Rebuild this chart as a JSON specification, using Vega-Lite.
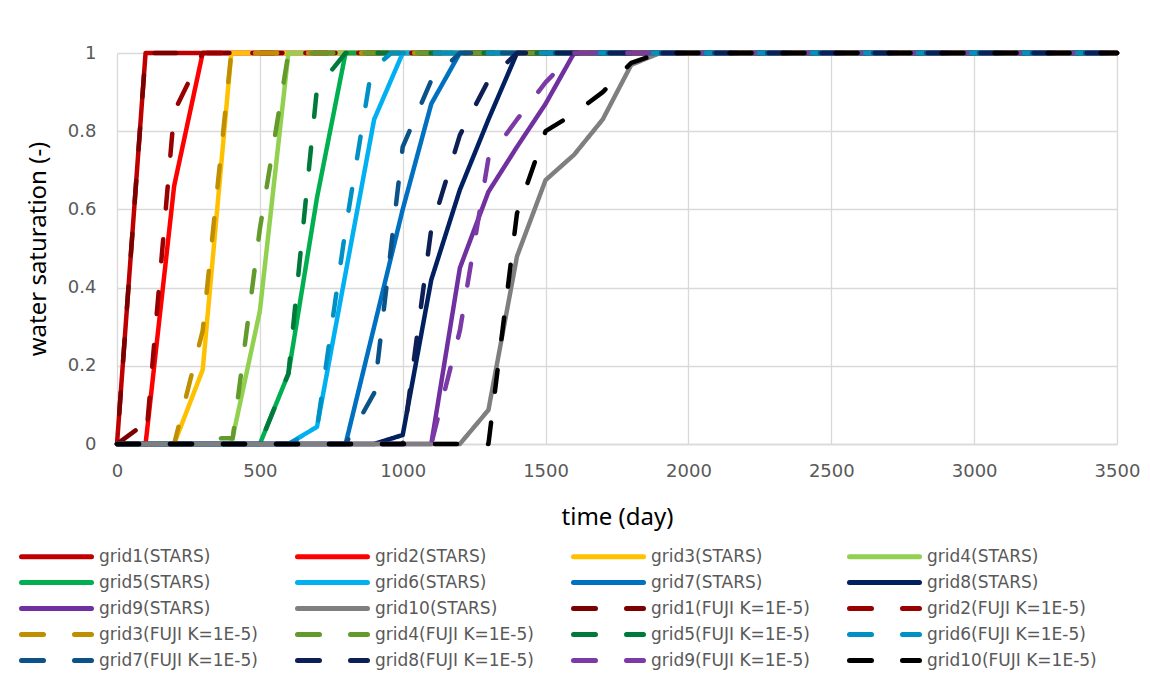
{
  "$schema": "https://vega.github.io/schema/vega-lite/v6.json",
  "autosize": {"type": "none"},
  "width": 1000,
  "height": 391,
  "padding": {"left": 117, "top": 53, "right": 33, "bottom": 229},
  "background": "#ffffff",
  "config": {
    "view": {"stroke": null},
    "font": "DejaVu Sans"
  },
  "datasets": {
    "stars": [
      {"series": "grid1(STARS)", "t": 0, "s": 0}, {"series": "grid1(STARS)", "t": 100, "s": 1}, {"series": "grid1(STARS)", "t": 3500, "s": 1},
      {"series": "grid2(STARS)", "t": 0, "s": 0}, {"series": "grid2(STARS)", "t": 100, "s": 0}, {"series": "grid2(STARS)", "t": 200, "s": 0.66}, {"series": "grid2(STARS)", "t": 300, "s": 1}, {"series": "grid2(STARS)", "t": 3500, "s": 1},
      {"series": "grid3(STARS)", "t": 0, "s": 0}, {"series": "grid3(STARS)", "t": 200, "s": 0}, {"series": "grid3(STARS)", "t": 300, "s": 0.19}, {"series": "grid3(STARS)", "t": 400, "s": 1}, {"series": "grid3(STARS)", "t": 3500, "s": 1},
      {"series": "grid4(STARS)", "t": 0, "s": 0}, {"series": "grid4(STARS)", "t": 400, "s": 0}, {"series": "grid4(STARS)", "t": 500, "s": 0.34}, {"series": "grid4(STARS)", "t": 600, "s": 1}, {"series": "grid4(STARS)", "t": 3500, "s": 1},
      {"series": "grid5(STARS)", "t": 0, "s": 0}, {"series": "grid5(STARS)", "t": 500, "s": 0}, {"series": "grid5(STARS)", "t": 600, "s": 0.18}, {"series": "grid5(STARS)", "t": 700, "s": 0.63}, {"series": "grid5(STARS)", "t": 800, "s": 1}, {"series": "grid5(STARS)", "t": 3500, "s": 1},
      {"series": "grid6(STARS)", "t": 0, "s": 0}, {"series": "grid6(STARS)", "t": 600, "s": 0}, {"series": "grid6(STARS)", "t": 700, "s": 0.044}, {"series": "grid6(STARS)", "t": 900, "s": 0.83}, {"series": "grid6(STARS)", "t": 1000, "s": 1}, {"series": "grid6(STARS)", "t": 3500, "s": 1},
      {"series": "grid7(STARS)", "t": 0, "s": 0}, {"series": "grid7(STARS)", "t": 800, "s": 0}, {"series": "grid7(STARS)", "t": 1000, "s": 0.6}, {"series": "grid7(STARS)", "t": 1100, "s": 0.87}, {"series": "grid7(STARS)", "t": 1200, "s": 1}, {"series": "grid7(STARS)", "t": 3500, "s": 1},
      {"series": "grid8(STARS)", "t": 0, "s": 0}, {"series": "grid8(STARS)", "t": 900, "s": 0}, {"series": "grid8(STARS)", "t": 1000, "s": 0.023}, {"series": "grid8(STARS)", "t": 1100, "s": 0.42}, {"series": "grid8(STARS)", "t": 1200, "s": 0.65}, {"series": "grid8(STARS)", "t": 1300, "s": 0.83}, {"series": "grid8(STARS)", "t": 1400, "s": 1}, {"series": "grid8(STARS)", "t": 3500, "s": 1},
      {"series": "grid9(STARS)", "t": 0, "s": 0}, {"series": "grid9(STARS)", "t": 1100, "s": 0}, {"series": "grid9(STARS)", "t": 1200, "s": 0.45}, {"series": "grid9(STARS)", "t": 1300, "s": 0.645}, {"series": "grid9(STARS)", "t": 1400, "s": 0.76}, {"series": "grid9(STARS)", "t": 1500, "s": 0.87}, {"series": "grid9(STARS)", "t": 1600, "s": 1}, {"series": "grid9(STARS)", "t": 3500, "s": 1},
      {"series": "grid10(STARS)", "t": 0, "s": 0}, {"series": "grid10(STARS)", "t": 1200, "s": 0}, {"series": "grid10(STARS)", "t": 1300, "s": 0.087}, {"series": "grid10(STARS)", "t": 1400, "s": 0.48}, {"series": "grid10(STARS)", "t": 1500, "s": 0.675}, {"series": "grid10(STARS)", "t": 1600, "s": 0.74}, {"series": "grid10(STARS)", "t": 1700, "s": 0.83}, {"series": "grid10(STARS)", "t": 1800, "s": 0.97}, {"series": "grid10(STARS)", "t": 1900, "s": 1}, {"series": "grid10(STARS)", "t": 3500, "s": 1}
    ],
    "fuji": [
      {"series": "grid1(FUJI K=1E-5)", "t": 65, "s": 0.035}, {"series": "grid1(FUJI K=1E-5)", "t": 0, "s": 0}, {"series": "grid1(FUJI K=1E-5)", "t": 100, "s": 1}, {"series": "grid1(FUJI K=1E-5)", "t": 3500, "s": 1},
      {"series": "grid2(FUJI K=1E-5)", "t": 0, "s": 0}, {"series": "grid2(FUJI K=1E-5)", "t": 100, "s": 0}, {"series": "grid2(FUJI K=1E-5)", "t": 200, "s": 0.85}, {"series": "grid2(FUJI K=1E-5)", "t": 300, "s": 1}, {"series": "grid2(FUJI K=1E-5)", "t": 3500, "s": 1},
      {"series": "grid3(FUJI K=1E-5)", "t": 0, "s": 0}, {"series": "grid3(FUJI K=1E-5)", "t": 200, "s": 0}, {"series": "grid3(FUJI K=1E-5)", "t": 300, "s": 0.29}, {"series": "grid3(FUJI K=1E-5)", "t": 400, "s": 1}, {"series": "grid3(FUJI K=1E-5)", "t": 3500, "s": 1},
      {"series": "grid4(FUJI K=1E-5)", "t": 0, "s": 0}, {"series": "grid4(FUJI K=1E-5)", "t": 340, "s": 0}, {"series": "grid4(FUJI K=1E-5)", "t": 365, "s": 0.015}, {"series": "grid4(FUJI K=1E-5)", "t": 405, "s": 0.015}, {"series": "grid4(FUJI K=1E-5)", "t": 500, "s": 0.55}, {"series": "grid4(FUJI K=1E-5)", "t": 600, "s": 1}, {"series": "grid4(FUJI K=1E-5)", "t": 3500, "s": 1},
      {"series": "grid5(FUJI K=1E-5)", "t": 0, "s": 0}, {"series": "grid5(FUJI K=1E-5)", "t": 500, "s": 0}, {"series": "grid5(FUJI K=1E-5)", "t": 600, "s": 0.18}, {"series": "grid5(FUJI K=1E-5)", "t": 700, "s": 0.91}, {"series": "grid5(FUJI K=1E-5)", "t": 800, "s": 1}, {"series": "grid5(FUJI K=1E-5)", "t": 3500, "s": 1},
      {"series": "grid6(FUJI K=1E-5)", "t": 0, "s": 0}, {"series": "grid6(FUJI K=1E-5)", "t": 600, "s": 0}, {"series": "grid6(FUJI K=1E-5)", "t": 700, "s": 0.04}, {"series": "grid6(FUJI K=1E-5)", "t": 800, "s": 0.55}, {"series": "grid6(FUJI K=1E-5)", "t": 890, "s": 0.955}, {"series": "grid6(FUJI K=1E-5)", "t": 960, "s": 1}, {"series": "grid6(FUJI K=1E-5)", "t": 3500, "s": 1},
      {"series": "grid7(FUJI K=1E-5)", "t": 0, "s": 0}, {"series": "grid7(FUJI K=1E-5)", "t": 800, "s": 0}, {"series": "grid7(FUJI K=1E-5)", "t": 900, "s": 0.13}, {"series": "grid7(FUJI K=1E-5)", "t": 1000, "s": 0.76}, {"series": "grid7(FUJI K=1E-5)", "t": 1100, "s": 0.93}, {"series": "grid7(FUJI K=1E-5)", "t": 1200, "s": 1}, {"series": "grid7(FUJI K=1E-5)", "t": 3500, "s": 1},
      {"series": "grid8(FUJI K=1E-5)", "t": 0, "s": 0}, {"series": "grid8(FUJI K=1E-5)", "t": 1000, "s": 0}, {"series": "grid8(FUJI K=1E-5)", "t": 1100, "s": 0.55}, {"series": "grid8(FUJI K=1E-5)", "t": 1200, "s": 0.79}, {"series": "grid8(FUJI K=1E-5)", "t": 1300, "s": 0.93}, {"series": "grid8(FUJI K=1E-5)", "t": 1400, "s": 1}, {"series": "grid8(FUJI K=1E-5)", "t": 3500, "s": 1},
      {"series": "grid9(FUJI K=1E-5)", "t": 0, "s": 0}, {"series": "grid9(FUJI K=1E-5)", "t": 1100, "s": 0}, {"series": "grid9(FUJI K=1E-5)", "t": 1200, "s": 0.29}, {"series": "grid9(FUJI K=1E-5)", "t": 1300, "s": 0.73}, {"series": "grid9(FUJI K=1E-5)", "t": 1400, "s": 0.83}, {"series": "grid9(FUJI K=1E-5)", "t": 1500, "s": 0.925}, {"series": "grid9(FUJI K=1E-5)", "t": 1600, "s": 1}, {"series": "grid9(FUJI K=1E-5)", "t": 3500, "s": 1},
      {"series": "grid10(FUJI K=1E-5)", "t": 0, "s": 0}, {"series": "grid10(FUJI K=1E-5)", "t": 1300, "s": 0}, {"series": "grid10(FUJI K=1E-5)", "t": 1400, "s": 0.59}, {"series": "grid10(FUJI K=1E-5)", "t": 1500, "s": 0.8}, {"series": "grid10(FUJI K=1E-5)", "t": 1600, "s": 0.845}, {"series": "grid10(FUJI K=1E-5)", "t": 1700, "s": 0.9}, {"series": "grid10(FUJI K=1E-5)", "t": 1800, "s": 0.975}, {"series": "grid10(FUJI K=1E-5)", "t": 1900, "s": 1}, {"series": "grid10(FUJI K=1E-5)", "t": 3500, "s": 1}
    ]
  },
  "encoding": {
    "x": {
      "field": "t", "type": "quantitative",
      "scale": {"domain": [0, 3500], "nice": false, "zero": false},
      "axis": {
        "title": "time (day)", "values": [0, 500, 1000, 1500, 2000, 2500, 3000, 3500], "format": "d",
        "grid": true, "gridColor": "#d9d9d9", "gridWidth": 1.3, "labelFlush": false,
        "domain": true, "domainColor": "#d9d9d9", "domainWidth": 1.3, "ticks": false,
        "labelFont": "DejaVu Sans", "labelFontSize": 18, "labelColor": "#595959", "labelPadding": 18,
        "titleFont": "Noto Sans", "titleFontSize": 24, "titleFontWeight": "normal", "titleColor": "#000000", "titlePadding": 25
      }
    },
    "y": {
      "field": "s", "type": "quantitative",
      "scale": {"domain": [0, 1], "nice": false},
      "axis": {
        "title": "water saturation (-)", "values": [0, 0.2, 0.4, 0.6, 0.8, 1], "format": "~g",
        "grid": true, "gridColor": "#d9d9d9", "gridWidth": 1.3,
        "domain": false, "ticks": false,
        "labelFont": "DejaVu Sans", "labelFontSize": 18, "labelColor": "#595959", "labelPadding": 21,
        "titleFont": "Noto Sans", "titleFontSize": 24, "titleFontWeight": "normal", "titleColor": "#000000", "titlePadding": 17
      }
    },
    "color": {
      "field": "series", "type": "nominal",
      "scale": {
        "domain": ["grid1(STARS)", "grid2(STARS)", "grid3(STARS)", "grid4(STARS)", "grid5(STARS)", "grid6(STARS)", "grid7(STARS)", "grid8(STARS)", "grid9(STARS)", "grid10(STARS)", "grid1(FUJI K=1E-5)", "grid2(FUJI K=1E-5)", "grid3(FUJI K=1E-5)", "grid4(FUJI K=1E-5)", "grid5(FUJI K=1E-5)", "grid6(FUJI K=1E-5)", "grid7(FUJI K=1E-5)", "grid8(FUJI K=1E-5)", "grid9(FUJI K=1E-5)", "grid10(FUJI K=1E-5)"],
        "range": ["#C00000", "#FF0000", "#FFC000", "#92D050", "#00B050", "#00B0F0", "#0070C0", "#002060", "#7030A0", "#7F7F7F", "#7B0000", "#990000", "#BF8F00", "#639A2C", "#007A3A", "#0090C4", "#0A5287", "#0D1F55", "#7B3AA6", "#000000"]
      },
      "legend": {
        "title": null, "orient": "none", "direction": "horizontal", "legendX": -99, "legendY": 495, "columns": 4, "gridAlign": "all",
        "symbolType": "M-1,0H13", "symbolSize": 100, "symbolStrokeWidth": 5, "labelOffset": 64,
        "labelFont": "DejaVu Sans", "labelFontSize": 17, "labelColor": "#595959", "labelLimit": 400,
        "rowPadding": 5, "columnPadding": 18,
        "encode": {"symbols": {"update": {"strokeCap": {"value": "round"}}}}
      }
    },
    "strokeDash": {
      "field": "series", "type": "nominal",
      "scale": {
        "domain": ["grid1(STARS)", "grid2(STARS)", "grid3(STARS)", "grid4(STARS)", "grid5(STARS)", "grid6(STARS)", "grid7(STARS)", "grid8(STARS)", "grid9(STARS)", "grid10(STARS)", "grid1(FUJI K=1E-5)", "grid2(FUJI K=1E-5)", "grid3(FUJI K=1E-5)", "grid4(FUJI K=1E-5)", "grid5(FUJI K=1E-5)", "grid6(FUJI K=1E-5)", "grid7(FUJI K=1E-5)", "grid8(FUJI K=1E-5)", "grid9(FUJI K=1E-5)", "grid10(FUJI K=1E-5)"],
        "range": [[1, 0], [1, 0], [1, 0], [1, 0], [1, 0], [1, 0], [1, 0], [1, 0], [1, 0], [1, 0], [22, 31], [22, 31], [22, 31], [22, 31], [22, 31], [22, 31], [22, 31], [22, 31], [22, 31], [22, 31]]
      },
      "legend": {
        "title": null, "orient": "none", "direction": "horizontal", "legendX": -99, "legendY": 495, "columns": 4, "gridAlign": "all",
        "symbolType": "M-1,0H13", "symbolSize": 100, "symbolStrokeWidth": 5, "labelOffset": 64,
        "labelFont": "DejaVu Sans", "labelFontSize": 17, "labelColor": "#595959", "labelLimit": 400,
        "rowPadding": 5, "columnPadding": 18,
        "encode": {"symbols": {"update": {"strokeCap": {"value": "round"}}}}
      }
    },
    "order": {"value": null}
  },
  "layer": [
    {
      "data": {"name": "stars"},
      "mark": {"type": "line", "strokeWidth": 4.5, "strokeCap": "round", "strokeJoin": "round"}
    },
    {
      "data": {"name": "fuji"},
      "mark": {"type": "line", "strokeWidth": 4.5, "strokeCap": "round", "strokeJoin": "round"}
    }
  ]
}
